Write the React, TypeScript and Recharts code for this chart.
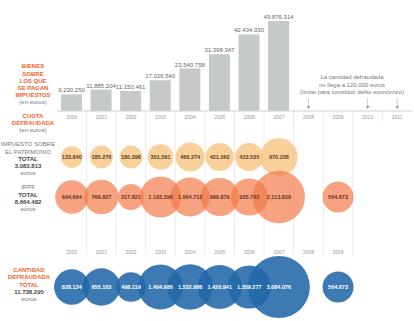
import {
  BarChart,
  Bar,
  XAxis,
  YAxis,
  LabelList,
  ReferenceDot,
  ReferenceLine,
  ScatterChart,
  Scatter,
  ZAxis,
} from "recharts";

const years = ["2000", "2001", "2002", "2003", "2004", "2005", "2006", "2007", "2008", "2009", "2010", "2011"];
// bienes sobre los que se pagan impuestos (en euros)
const bienes = [9230250, 11885204, 11150461, 17026540, 23540758, 31398347, 42434030, 49876314, null, null, null, null];
// cuota defraudada
const patrimonioYears = [2000, 2001, 2002, 2003, 2004, 2005, 2006, 2007];
const patrimonio = [133840, 185276, 180298, 301591, 468274, 421062, 423535, 970238];
const irpfYears = [2000, 2001, 2002, 2003, 2004, 2005, 2006, 2007, 2009];
const irpf = [694694, 769827, 317821, 1193396, 1064712, 999879, 935742, 2113838, 564673];
const totalYears = [2000, 2001, 2002, 2003, 2004, 2005, 2006, 2007, 2009];
const total = [828134, 955103, 498119, 1494986, 1532986, 1420941, 1359277, 3084076, 564673];
const lowerYears = [2000, 2001, 2002, 2003, 2004, 2005, 2006, 2007, 2008, 2009];
const sinDelito = ["2008", "2010", "2011"];

const FONT = "'Liberation Sans', Arial, sans-serif";
const ORANGE = "#f0622a";

// vertical position of each row in the lower chart (axis units)
const ROW = { patrimonio: 46, irpf: 86, years: 141, total: 176 };

const fmt = (v: any) =>
  v == null ? "" : String(v).replace(/\B(?=(\d{3})+(?!\d))/g, ".");

const barData = years.map((y, i) => ({ year: y, value: bienes[i] }));
const patData = patrimonioYears.map((x, i) => ({ x, y: ROW.patrimonio, z: patrimonio[i] }));
const irpfData = irpfYears.map((x, i) => ({ x, y: ROW.irpf, z: irpf[i] }));
const totalData = totalYears.map((x, i) => ({ x, y: ROW.total, z: total[i] }));
const yearData = lowerYears.map((x) => ({ x, y: ROW.years }));

const Arrow = (props: any) => {
  const { cx, cy } = props;
  return (
    <g>
      <line x1={cx} y1={cy - 5} x2={cx} y2={cy + 3} stroke="#999" strokeWidth={0.8} strokeDasharray="1.2 0.8" />
      <path d={`M${cx - 1.8},${cy + 2.5} L${cx + 1.8},${cy + 2.5} L${cx},${cy + 5.5} Z`} fill="#999" />
    </g>
  );
};

const YearText = (props: any) => (
  <text
    x={props.cx}
    y={props.cy}
    textAnchor="middle"
    dominantBaseline="central"
    fontSize={5}
    fill="#999"
    fontFamily={FONT}
  >
    {props.payload.x}
  </text>
);

type Line = { t: string; c?: string; b?: boolean };

function Block({ top, cx, lh, lines, w = 80 }: { top: number; cx: number; lh: number; lines: Line[]; w?: number }) {
  return (
    <div
      style={{
        position: "absolute",
        top,
        left: cx - w / 2,
        width: w,
        textAlign: "center",
        lineHeight: `${lh}px`,
        fontSize: 6,
        fontFamily: FONT,
        whiteSpace: "nowrap",
      }}
    >
      {lines.map((l, i) => (
        <div key={i} style={{ color: l.c || "#777", fontWeight: l.b ? "bold" : "normal" }}>
          {l.t}
        </div>
      ))}
    </div>
  );
}

const boundaries = [2000.5, 2001.5, 2002.5, 2003.5, 2004.5, 2005.5, 2006.5, 2007.5, 2008.5, 2009.5];

export default function App() {
  return (
    <div
      style={{
        position: "absolute",
        left: 0,
        top: 0,
        width: 414,
        height: 321,
        background: "#fff",
        fontFamily: FONT,
        overflow: "hidden",
      }}
    >
      <div style={{ position: "absolute", left: 0, top: 111 }}>
        <ScatterChart width={414} height={210} margin={{ top: 0, right: 2, left: 57, bottom: 0 }}>
          <XAxis type="number" dataKey="x" domain={[1999.5, 2011.5]} hide />
          <YAxis type="number" dataKey="y" domain={[0, 210]} reversed hide />
          <ZAxis type="number" dataKey="z" domain={[0, 3084076]} range={[246, 3018]} />
          {boundaries.map((b) => (
            <ReferenceLine
              key={b}
              segment={[{ x: b, y: 0 }, { x: b, y: 144 }]}
              stroke="#e6e6e6"
              strokeWidth={0.8}
            />
          ))}
          <ReferenceLine segment={[{ x: 2010.5, y: 0 }, { x: 2010.5, y: 10 }]} stroke="#e6e6e6" strokeWidth={0.8} />
          <Scatter data={yearData} shape={YearText} isAnimationActive={false} />
          <Scatter data={patData} fill="#f7c47f" fillOpacity={0.8} isAnimationActive={false}>
            <LabelList dataKey="z" position="center" formatter={fmt} fontSize={5.5} fontWeight="bold" fill="#5b3d1e" fontFamily={FONT} />
          </Scatter>
          <Scatter data={irpfData} fill="#f37b4a" fillOpacity={0.7} isAnimationActive={false}>
            <LabelList dataKey="z" position="center" formatter={fmt} fontSize={5.5} fontWeight="bold" fill="#6a3422" fontFamily={FONT} />
          </Scatter>
          <Scatter data={totalData} fill="#2268a8" fillOpacity={0.88} isAnimationActive={false}>
            <LabelList dataKey="z" position="center" formatter={fmt} fontSize={5.5} fontWeight="bold" fill="#ffffff" fontFamily={FONT} />
          </Scatter>
        </ScatterChart>
      </div>

      <div style={{ position: "absolute", left: 0, top: 0 }}>
        <BarChart width={414} height={125} data={barData} margin={{ top: 10, right: 2, left: 57, bottom: 0 }}>
          <XAxis
            dataKey="year"
            height={14}
            tickLine={false}
            tickSize={0}
            tickMargin={4}
            axisLine={{ stroke: "#cfcfcf" }}
            tick={{ fontSize: 5, fill: "#999", fontFamily: FONT }}
            interval={0}
          />
          <YAxis domain={[0, 56000000]} hide />
          <Bar dataKey="value" fill="#c6c9c9" barSize={21} isAnimationActive={false}>
            <LabelList dataKey="value" position="top" offset={2} formatter={fmt} fontSize={6} fill="#666" fontFamily={FONT} />
          </Bar>
          {sinDelito.map((y) => (
            <ReferenceDot key={y} x={y} y={4200000} shape={Arrow} />
          ))}
        </BarChart>
      </div>

      <Block
        top={74.3}
        cx={352}
        lh={7.5}
        w={150}
        lines={[
          { t: "La cantidad defraudada" },
          { t: "no llega a 120.000 euros" },
          { t: "(límite para constituir delito económico)" },
        ]}
      />

      <Block
        top={63.4}
        cx={33}
        lh={7.2}
        lines={[
          { t: "BIENES", c: ORANGE, b: true },
          { t: "SOBRE", c: ORANGE, b: true },
          { t: "LOS QUE", c: ORANGE, b: true },
          { t: "SE PAGAN", c: ORANGE, b: true },
          { t: "IMPUESTOS", c: ORANGE, b: true },
          { t: "(en euros)" },
        ]}
      />
      <Block
        top={113.4}
        cx={33}
        lh={7}
        lines={[
          { t: "CUOTA", c: ORANGE, b: true },
          { t: "DEFRAUDADA", c: ORANGE, b: true },
          { t: "(en euros)" },
        ]}
      />
      <Block
        top={141.4}
        cx={28}
        lh={7.25}
        lines={[
          { t: "IMPUESTO SOBRE" },
          { t: "EL PATRIMONIO" },
          { t: "TOTAL", c: "#444", b: true },
          { t: "3.083.813", c: "#444", b: true },
          { t: "euros" },
        ]}
      />
      <Block
        top={184.4}
        cx={28}
        lh={7.2}
        lines={[
          { t: "IRPF" },
          { t: "TOTAL", c: "#444", b: true },
          { t: "8.664.482", c: "#444", b: true },
          { t: "euros" },
        ]}
      />
      <Block
        top={267.4}
        cx={29}
        lh={7.1}
        lines={[
          { t: "CANTIDAD", c: ORANGE, b: true },
          { t: "DEFRAUDADA", c: ORANGE, b: true },
          { t: "TOTAL", c: ORANGE, b: true },
          { t: "11.738.295", c: "#444", b: true },
          { t: "euros" },
        ]}
      />
    </div>
  );
}
